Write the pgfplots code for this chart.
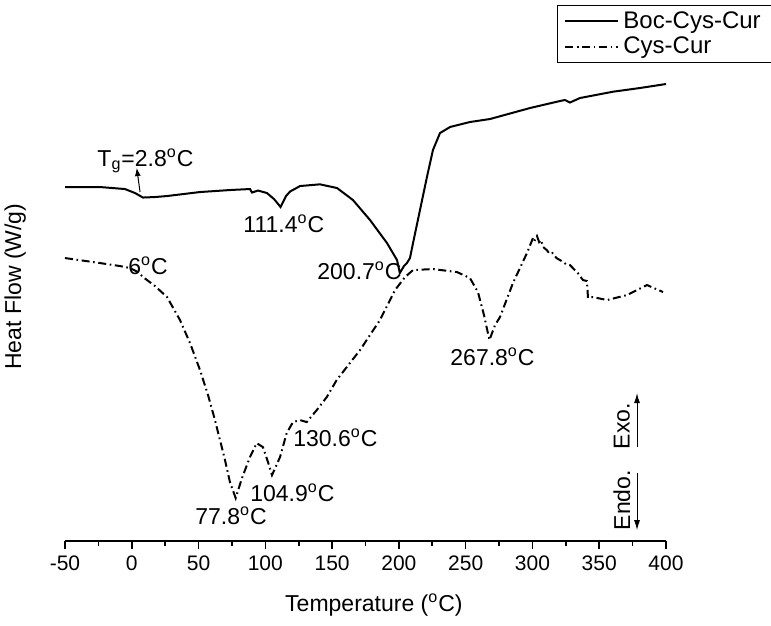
\documentclass[border=0pt]{standalone}
\usepackage{fontspec}
\setmainfont{Liberation Sans}
\usepackage{pgfplots}
\pgfplotsset{compat=1.18}
\usetikzlibrary{arrows.meta}

\newcommand{\lbl}{\fontsize{11.5}{14}\selectfont}
\newcommand{\dg}{\textsuperscript{o}C}

\begin{document}
\begin{tikzpicture}
\begin{axis}[
  scale only axis, width=300.5pt, height=270.5pt,
  xmin=-50, xmax=400, ymin=0, ymax=541,
  axis x line=bottom, axis y line=left,
  axis line style={-, line width=0.8pt},
  y axis line style={draw=none},
  ytick=\empty,
  xtick={-50,0,...,400}, minor x tick num=1,
  tick align=outside, major tick length=4pt, minor tick length=2.2pt,
  tick style={line width=0.8pt, black},
  ticklabel style={font=\fontsize{10.5}{12}\selectfont},
  /pgf/number format/assume math mode=true,
  xlabel={Temperature (\textsuperscript{o}C)},
  xlabel style={font=\lbl, at={(rel axis cs:0.514,-0.118)}, anchor=center},
  ylabel={Heat Flow (W/g)},
  ylabel style={font=\lbl, at={(rel axis cs:-0.083,0.47)}, anchor=center},
  clip=false,
  legend cell align=left,
  legend style={font=\fontsize{12}{14}\selectfont, at={(rel axis cs:0.8186,0.9908)}, anchor=north west,
    draw=black, line width=0.5pt, inner xsep=3.5pt, inner ysep=1pt, row sep=-1pt,
    /tikz/every even column/.append style={column sep=1.5pt}},
  legend image code/.code={\draw[#1] (0cm,0cm) -- (0.93cm,0cm);},
]
% Boc-Cys-Cur
\addplot[black, line width=1pt] coordinates {
(-50,354)(-23.8,354)(-5.1,352)(2.4,348)(8.4,343.5)(17.4,344)(26.4,345)
(51.1,349)(73.5,351)(88.5,352)(90.0,348.5)(94.5,350.5)(101.2,348)
(106.5,342)(111.4,334)(115.5,345)(118.5,349.5)(126,355)(140.9,356.7)
(153.7,353)(165.6,341)(178.4,321)(191.1,298)(198.6,281)(200.7,268)
(203.8,275)(206,278)(208.3,283)(210.6,298)(215.8,331)(221,364)
(225.5,391)(230.8,408)(238.3,414)(253.2,419)(268.2,422)(298.2,433)
(320.6,440)(324.4,441)(328.1,438.5)(335.6,443)(360.3,449.3)(380.5,453)(400,457)
};
% Cys-Cur
\addplot[black, line width=1pt, dash pattern=on 4pt off 1.8pt on 0.8pt off 1.8pt] coordinates {
(-50,283)(-23.8,278)(-8.8,275)(-1.3,273)(4.7,269)(8.4,264)(17.4,255)
(26.4,244)(36.1,221)(43.6,198)(51.1,171)(57.1,146)(62.3,121)(69.8,81)
(73.5,59)(77.8,43)(82.5,63)(88.5,84)(93.5,98)(98.2,94)(102,79)(105,66)
(111,84)(116,108)(120.7,119)(126,121)(131,119)(138.5,131)(146,144)
(153.4,161)(170.9,191)(185.8,221)(197.1,251)(204.6,264)(210.6,271)
(225.5,272)(243.5,269)(253.2,263)(259.2,249)(263.7,226)(267.8,201)
(272,216)(275.7,224)(285.4,258)(295.9,288)(300.4,303)(301.5,300)(303.4,305)
(305,299)(306.4,301)(308,294)(310.7,291)(313,287)(315,288)(318,283)
(320.6,281)(323,279)(325,277)(328.1,276)(331,272)(334,268)(337.8,261)
(340.8,260)(341.6,243)(345.3,244)(355.8,241)(370.8,246)(385.8,256)(397.8,249)
};
\legend{Boc-Cys-Cur, Cys-Cur}

% annotations
\node[font=\lbl, anchor=base west, inner sep=0pt] at (axis cs:-26,375) {T\textsubscript{g}=2.8\dg};
\draw[line width=0.5pt, -{Latex[length=4pt,width=3pt]}] (axis cs:6.2,349) -- (axis cs:3.7,373);
\node[font=\lbl, anchor=base west, inner sep=0pt] at (axis cs:83.3,309) {111.4\dg};
\node[font=\lbl, anchor=base west, inner sep=0pt] at (axis cs:138.7,262) {200.7\dg};
\node[font=\lbl, anchor=base west, inner sep=0pt] at (axis cs:-2.8,267) {6\dg};
\node[font=\lbl, anchor=base west, inner sep=0pt] at (axis cs:238.3,176) {267.8\dg};
\node[font=\lbl, anchor=base west, inner sep=0pt] at (axis cs:120.7,95) {130.6\dg};
\node[font=\lbl, anchor=base west, inner sep=0pt] at (axis cs:88.5,40) {104.9\dg};
\node[font=\lbl, anchor=base west, inner sep=0pt] at (axis cs:47.3,17) {77.8\dg};
\node[font=\lbl, rotate=90, anchor=center] at (axis cs:367,115) {Exo.};
\node[font=\lbl, rotate=90, anchor=center] at (axis cs:367,41) {Endo.};
\draw[line width=0.5pt, -{Latex[length=5pt,width=3pt]}] (axis cs:378.3,94) -- (axis cs:378.3,148);
\draw[line width=0.5pt, -{Latex[length=5pt,width=3pt]}] (axis cs:378.3,68) -- (axis cs:378.3,11);

\coordinate (bbsw) at (rel axis cs:-0.10815,-0.15527);
\coordinate (bbne) at (rel axis cs:1.17471,1);
\end{axis}
\pgfresetboundingbox
\useasboundingbox (bbsw) rectangle (bbne);
\end{tikzpicture}
\end{document}
